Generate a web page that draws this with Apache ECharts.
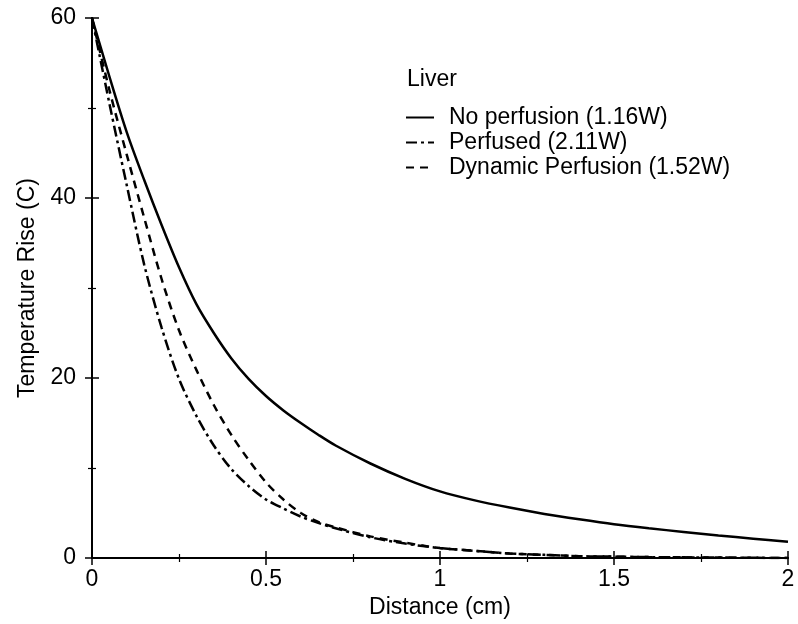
<!DOCTYPE html>
<html>
<head>
<meta charset="utf-8">
<script src="https://cdn.jsdelivr.net/npm/echarts@6/dist/echarts.min.js"></script>
<style>
html,body{margin:0;padding:0;background:#fff;}
#chart{width:798px;height:624px;}
</style>
</head>
<body>
<div id="chart"></div>
<script>
// Distance (cm)
const distance = [0, 0.05, 0.1, 0.15, 0.2, 0.25, 0.3, 0.35, 0.4, 0.45, 0.5, 0.55, 0.6, 0.65, 0.7,
  0.8, 0.9, 1.0, 1.1, 1.2, 1.3, 1.4, 1.5, 1.6, 1.7, 1.8, 1.9, 2.0];
// Temperature rise (C)
const noPerfusion = [60, 53.5, 47.3, 42.0, 37.0, 32.3, 28.2, 25.0, 22.2, 19.9, 18.0, 16.4, 15.0, 13.7, 12.5,
  10.5, 8.8, 7.4, 6.4, 5.6, 4.9, 4.3, 3.75, 3.3, 2.9, 2.5, 2.15, 1.8];
const perfused = [60, 50.5, 41.4, 32.6, 25.6, 19.9, 15.8, 12.5, 9.9, 8.0, 6.5, 5.5, 4.6, 3.9, 3.3,
  2.3, 1.6, 1.1, 0.8, 0.5, 0.35, 0.2, 0.15, 0.1, 0.07, 0.05, 0.02, 0];
const dynamicPerfusion = [60, 52, 44.8, 37.8, 31.0, 25.3, 20.9, 17.0, 13.7, 10.9, 8.4, 6.5, 5.0, 4.0, 3.4,
  2.4, 1.7, 1.1, 0.8, 0.5, 0.35, 0.2, 0.15, 0.1, 0.07, 0.05, 0.02, 0];
const seriesNames = ['No perfusion (1.16W)', 'Perfused (2.11W)', 'Dynamic Perfusion (1.52W)'];
const titleText = 'Liver';
const xName = 'Distance (cm)';
const yName = 'Temperature Rise (C)';

const pairs = ys => distance.map((x, i) => [x, ys[i]]);
const FONT = '"Liberation Sans", Arial, Helvetica, sans-serif';
const FS = 23;

const chart = echarts.init(document.getElementById('chart'));
const baseAxisLine = { show: true, lineStyle: { color: '#000', width: 2 } };
const tick = { show: true, inside: true, length: 7, lineStyle: { color: '#000', width: 1.5 } };
const minor = { show: true, splitNumber: 2, length: 4, lineStyle: { color: '#000', width: 1.2 } };

chart.setOption({
  animation: false,
  backgroundColor: '#fff',
  title: {
    text: titleText, left: 402, top: 63,
    textStyle: { fontFamily: FONT, fontSize: FS, fontWeight: 'normal', color: '#000' }
  },
  legend: {
    orient: 'vertical', left: 400, top: 101,
    itemWidth: 28, itemHeight: 10, itemGap: 2,
    data: seriesNames,
    itemStyle: { opacity: 0 },
    textStyle: { fontFamily: FONT, fontSize: FS, color: '#000', padding: [0, 0, 0, 10] }
  },
  grid: { left: 92, top: 18, width: 696, height: 540, containLabel: false },
  xAxis: [{
    type: 'value', min: 0, max: 2, interval: 0.5,
    name: xName, nameLocation: 'middle', nameGap: 38,
    nameTextStyle: { fontFamily: FONT, fontSize: FS, color: '#000' },
    axisLine: baseAxisLine, axisTick: tick, minorTick: minor,
    axisLabel: { fontFamily: FONT, fontSize: FS, color: '#000', margin: 10 },
    splitLine: { show: false }
  }, {
    type: 'value', min: 0, max: 2, interval: 0.5, position: 'top',
    axisLine: baseAxisLine, axisTick: tick, minorTick: minor,
    axisLabel: { show: false }, splitLine: { show: false }
  }],
  yAxis: [{
    type: 'value', min: 0, max: 60, interval: 20,
    name: yName, nameLocation: 'middle', nameGap: 53, nameRotate: 90,
    nameTextStyle: { fontFamily: FONT, fontSize: FS, color: '#000' },
    axisLine: baseAxisLine, axisTick: tick, minorTick: minor,
    axisLabel: { fontFamily: FONT, fontSize: FS, color: '#000', margin: 16 },
    splitLine: { show: false }
  }, {
    type: 'value', min: 0, max: 60, interval: 20, position: 'right',
    axisLine: baseAxisLine, axisTick: tick, minorTick: minor,
    axisLabel: { show: false }, splitLine: { show: false }
  }],
  series: [
    {
      name: seriesNames[1], type: 'line', data: pairs(perfused),
      symbol: 'none', smooth: 0.3,
      lineStyle: { color: '#000', width: 2.5, type: [11, 4, 3, 4] }, itemStyle: { color: '#000' }
    },
    {
      name: seriesNames[2], type: 'line', data: pairs(dynamicPerfusion),
      symbol: 'none', smooth: 0.3,
      lineStyle: { color: '#000', width: 2.5, type: [8, 6] }, itemStyle: { color: '#000' }
    },
    {
      name: seriesNames[0], type: 'line', data: pairs(noPerfusion),
      symbol: 'none', smooth: 0.3,
      lineStyle: { color: '#000', width: 2.5, type: 'solid' }, itemStyle: { color: '#000' }
    }
  ]
});
</script>
</body>
</html>
